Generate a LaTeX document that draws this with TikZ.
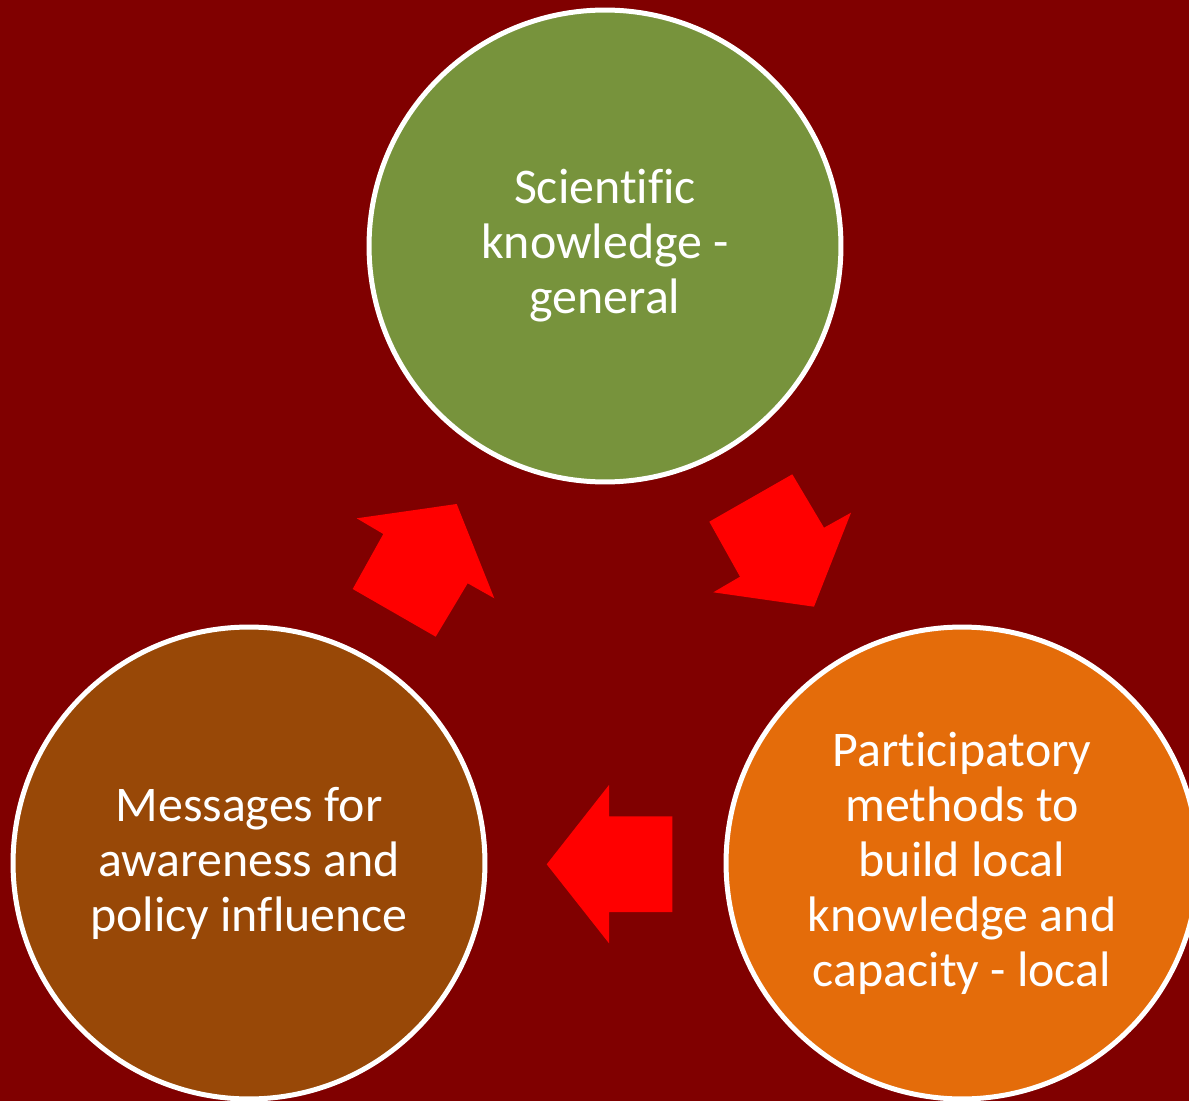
\documentclass[tikz,border=0pt]{standalone}
\usepackage{fontspec}
\setmainfont[Ligatures=CommonOff]{Carlito}
\definecolor{bgmaroon}{HTML}{800000}
\definecolor{cgreen}{HTML}{77933C}
\definecolor{cbrown}{HTML}{984807}
\definecolor{corange}{HTML}{E46C0A}
\definecolor{arrowred}{HTML}{FF0000}
\begin{document}
\begin{tikzpicture}[x=0.02cm,y=-0.02cm,
  bubble/.style={circle, draw=white, line width=0.1cm, minimum size=9.44cm, inner sep=0pt,
    align=center, text=white, font=\fontsize{28.4}{31.3}\selectfont},
  blockarrow/.style={fill=arrowred, draw=none}]
\useasboundingbox (0,0) rectangle (1189,1101);
\clip (0,0) rectangle (1189,1101);
\fill[bgmaroon] (0,0) rectangle (1189,1101);

\node[bubble, fill=cgreen] (sci) at (605,246) {Scientific\\knowledge -\\general};
\node[bubble, fill=cbrown] (msg) at (249,863) {Messages for\\awareness and\\policy influence};
\node[bubble, fill=corange] (part) at (962,863) {Participatory\\methods to\\build local\\knowledge and\\capacity - local};

% arrow from messages up to scientific knowledge
\fill[blockarrow] (456.7,504) -- (494.3,598.3) -- (467.7,583.3) -- (435.7,636.7)
  -- (352.7,589) -- (383.3,534) -- (356.7,518.3) -- cycle;
% arrow from scientific knowledge down to participatory
\fill[blockarrow] (814,606.7) -- (713.3,592.3) -- (740,576.7) -- (709.3,521.7)
  -- (792.3,474.3) -- (824,527.7) -- (851,512.7) -- cycle;
% arrow from participatory to messages
\fill[blockarrow] (546.7,864.3) -- (609,785) -- (609,816.3) -- (672.3,816.3)
  -- (672.3,912) -- (609,912) -- (609,943.3) -- cycle;
\end{tikzpicture}
\end{document}
